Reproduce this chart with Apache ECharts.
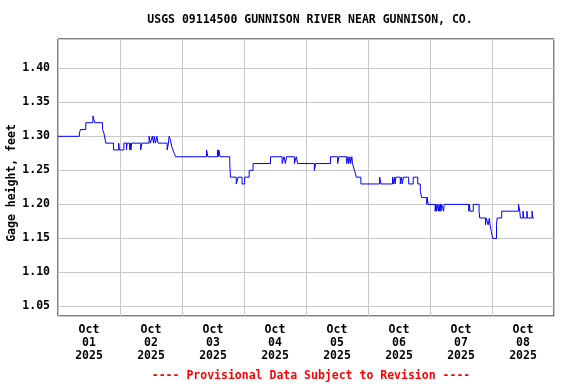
<!DOCTYPE html>
<html>
<head>
<meta charset="utf-8">
<script src="https://cdn.jsdelivr.net/npm/echarts@6/dist/echarts.min.js"></script>
<style>html,body{margin:0;padding:0;background:#fff}#c{width:576px;height:384px}</style>
</head>
<body>
<div id="c"></div>
<script>
// Hours since 2025-10-01 00:00 at which the gage height changes (step data)
const times = [0, 8.25, 8.75, 10.75, 13.5, 14.25, 17.25, 17.75, 18.5, 21.5, 23.5, 23.75,
  25.5, 26.5, 26.75, 27.75, 28, 28.25, 28.5, 32, 32.5, 35.25, 35.75, 36.5, 37, 37.25, 37.75, 38.25, 38.75,
  42.25, 42.75, 43, 43.5, 44, 44.5, 45, 45.5,
  57.5, 58, 61.75, 62, 62.25, 62.75, 66.5, 66.75, 69, 69.75, 71.25, 72.25, 74, 75.5,
  82.25, 86.75, 87.5, 88, 88.5, 91.5, 92.25, 92.75,
  99.25, 99.75, 105.5, 108.25, 108.75, 111.75, 112.25, 112.5, 113, 113.25, 113.75, 114, 114.75, 115.5, 117.25,
  124.5, 125, 129.5, 129.75, 130.25, 130.5, 130.75, 132.5, 133, 133.25, 133.75, 135.75, 137.5, 139.25,
  140.25, 140.75, 142.75, 143, 143.25, 146, 146.25, 146.5, 146.75, 147.25, 147.5, 147.75, 148, 148.25, 148.5,
  149.25, 149.5, 159, 159.25, 159.5, 160.75, 163, 163.25, 165.5, 165.75, 166.5, 167, 167.25, 167.75, 168.25,
  169.75, 170, 171.75, 178.25, 178.75, 179, 180, 180.25, 181.5, 181.75, 183.5, 183.75, 184.25];
const values = [1.30, 1.305, 1.31, 1.32, 1.33, 1.32, 1.31, 1.305, 1.29, 1.28, 1.29, 1.28,
  1.29, 1.28, 1.29, 1.28, 1.29, 1.28, 1.29, 1.28, 1.29, 1.30, 1.29, 1.30, 1.29, 1.30, 1.29, 1.30, 1.29,
  1.28, 1.29, 1.30, 1.295, 1.285, 1.28, 1.275, 1.27,
  1.28, 1.27, 1.28, 1.27, 1.28, 1.27, 1.26, 1.24, 1.23, 1.24, 1.23, 1.24, 1.25, 1.26,
  1.27, 1.26, 1.27, 1.26, 1.27, 1.26, 1.27, 1.26,
  1.25, 1.26, 1.27, 1.26, 1.27, 1.26, 1.27, 1.26, 1.27, 1.26, 1.27, 1.26, 1.25, 1.24, 1.23,
  1.24, 1.23, 1.24, 1.23, 1.24, 1.23, 1.24, 1.23, 1.24, 1.23, 1.24, 1.23, 1.24, 1.23,
  1.22, 1.21, 1.20, 1.21, 1.20, 1.19, 1.20, 1.19, 1.20, 1.19, 1.20, 1.19, 1.20, 1.19, 1.20,
  1.19, 1.20, 1.19, 1.20, 1.19, 1.20, 1.19, 1.18, 1.17, 1.18, 1.17, 1.18, 1.17, 1.16, 1.15,
  1.17, 1.18, 1.19, 1.20, 1.19, 1.18, 1.19, 1.18, 1.19, 1.18, 1.19, 1.18, 1.18];
const monthLabel = 'Oct';
const dayLabels = ['01', '02', '03', '04', '05', '06', '07', '08'];
const yearLabel = '2025';
const titleText = 'USGS 09114500 GUNNISON RIVER NEAR GUNNISON, CO.';
const footerText = '---- Provisional Data Subject to Revision ----';
const yName = 'Gage height, feet';

const F = 'DejaVu Sans Mono';
const chart = echarts.init(document.getElementById('c'), null, {renderer: 'canvas'});
chart.setOption({
  animation: false,
  backgroundColor: '#fff',
  title: [
    {text: titleText, left: 305, top: 9, textAlign: 'center',
     textStyle: {fontFamily: F, fontWeight: 'bold', fontSize: 11.5, color: '#000'}},
    {text: footerText, left: 306, top: 365, textAlign: 'center',
     textStyle: {fontFamily: F, fontWeight: 'bold', fontSize: 11.5, color: '#ff0000'}}
  ],
  grid: {left: 58, right: 22, top: 39, bottom: 68, show: true, borderColor: '#000', borderWidth: 1,
    containLabel: false, outerBoundsMode: 'none'},
  xAxis: [
    {type: 'value', min: 0, max: 192, interval: 24, position: 'top',
     axisLine: {show: false}, axisTick: {show: false}, axisLabel: {show: false},
     splitLine: {show: true, lineStyle: {color: '#c8c8c8', width: 1}}},
    {type: 'value', min: 0, max: 192, interval: 12, position: 'bottom',
     axisLine: {show: false}, axisTick: {show: false}, splitLine: {show: false},
     axisLabel: {show: true, margin: 8, lineHeight: 13, fontFamily: F, fontWeight: 'bold', fontSize: 11.5, color: '#000',
       showMinLabel: true, showMaxLabel: true,
       formatter: function (v) {
         if (Math.round(v) % 24 !== 12) return '';
         const d = Math.floor(v / 24);
         return monthLabel + '\n' + dayLabels[d] + '\n' + yearLabel;
       }}}
  ],
  yAxis: {type: 'value', min: 1.036, max: 1.443, minInterval: 0.05, maxInterval: 0.05, splitNumber: 8,
    name: yName, nameLocation: 'middle', nameRotate: 90, nameGap: 40, nameMoveOverlap: false,
    nameTextStyle: {fontFamily: F, fontWeight: 'bold', fontSize: 11.5, color: '#000', padding: [0, 11, 0, 0]},
    axisLine: {show: false}, axisTick: {show: false},
    axisLabel: {margin: 8, fontFamily: F, fontWeight: 'bold', fontSize: 11.5, color: '#000',
      showMinLabel: false, showMaxLabel: false,
      formatter: function (v) { return v.toFixed(2); }},
    splitLine: {show: true, lineStyle: {color: '#c8c8c8', width: 1}}},
  series: [{
    type: 'line', xAxisIndex: 1, step: 'end', symbol: 'none', silent: true,
    lineStyle: {color: '#0000ff', width: 1},
    data: times.map(function (t, i) { return [t, values[i]]; })
  }]
});
</script>
</body>
</html>
